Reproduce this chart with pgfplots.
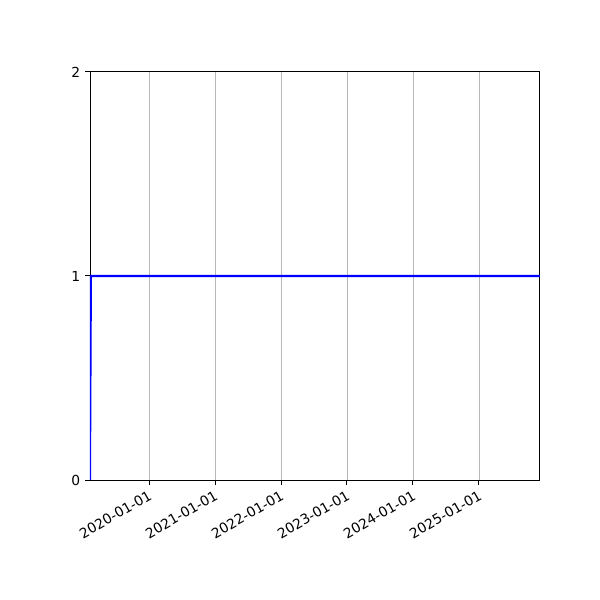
\documentclass[border=0pt]{standalone}
\usepackage{fontspec}
\setmainfont{DejaVu Sans}
\usepackage{pgfplots}
\pgfplotsset{compat=1.18}

% dates as fractional years
\begin{document}
\begin{tikzpicture}
\fontsize{10}{12}\selectfont
\path[use as bounding box] (-65.04pt,-86.72pt) rectangle (368.6pt,346.9pt);
\begin{axis}[
    at={(0,0)}, anchor=south west,
    scale only axis,
    width=325.2pt, height=294.9pt,
    xmin=2019.106, xmax=2025.924,
    ymin=0, ymax=2,
    ytick={0,1,2},
    xtick={2020,2021,2022,2023,2024,2025},
    xticklabels={2020-01-01,2021-01-01,2022-01-01,2023-01-01,2024-01-01,2025-01-01},
    x tick label style={rotate=30, anchor=north east, inner sep=2.5pt},
    tick align=outside,
    tick pos=left,
    major tick length=3.5pt,
    every tick/.style={black, line width=0.7pt},
    axis line style={line width=0.7pt},
    xmajorgrids,
    major grid style={color=black!28, line width=0.6pt},
    /pgf/number format/assume math mode=true,
    tick label style={font=\fontsize{10}{12}\selectfont},
]
\addplot[blue, line width=1.5pt] coordinates {
    (2019.106,0) (2019.12,1) (2025.924,1)
};
\end{axis}
\end{tikzpicture}
\end{document}
